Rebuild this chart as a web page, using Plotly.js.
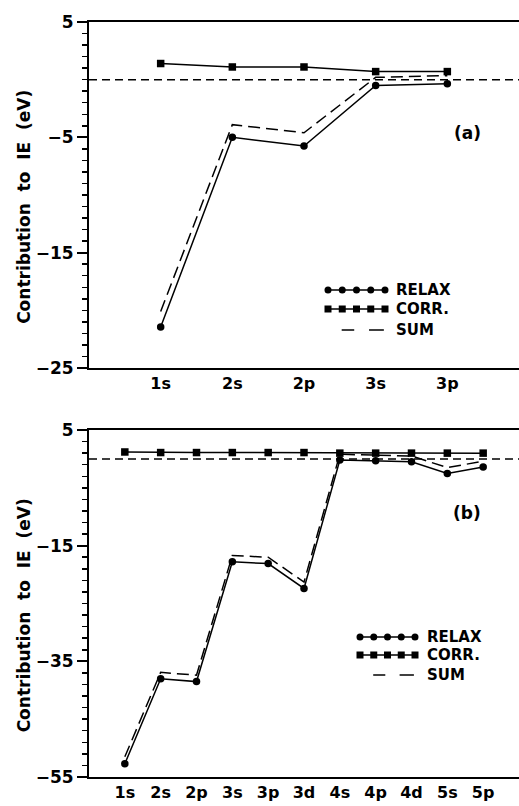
<!DOCTYPE html>
<html>
<head>
<meta charset="utf-8">
<script src="https://cdn.plot.ly/plotly-3.0.1.min.js"></script>
<style>html,body{margin:0;padding:0;background:#fff;}#chart{width:519px;height:806px;}</style>
</head>
<body>
<div id="chart"></div>
<script>
// Panel (a)
const orbitalsA = ["1s", "2s", "2p", "3s", "3p"];
const relaxA = [-21.45, -5.0, -5.75, -0.5, -0.35];
const corrA = [1.4, 1.1, 1.1, 0.7, 0.7];
const sumA = [-20.1, -3.9, -4.6, 0.2, 0.35];

// Panel (b)
const orbitalsB = ["1s", "2s", "2p", "3s", "3p", "3d", "4s", "4p", "4d", "5s", "5p"];
const relaxB = [-52.7, -38.0, -38.5, -17.8, -18.1, -22.4, -0.2, -0.3, -0.5, -2.5, -1.4];
const corrB = [1.2, 1.1, 1.1, 1.1, 1.1, 1.1, 1.0, 1.0, 1.0, 1.0, 1.0];
const sumB = [-51.5, -36.9, -37.4, -16.7, -17.0, -21.3, 0.8, 0.7, 0.5, -1.5, -0.4];

// Axis tick labels
const yTickValsA = [5, -5, -15, -25];
const yTickTextA = ["5", "\u22125", "\u221215", "\u221225"];
const yTickValsB = [5, -15, -35, -55];
const yTickTextB = ["5", "\u221215", "\u221235", "\u221255"];

const legendLabels = ["RELAX", "CORR.", "SUM"];
const panelLabels = ["(a)", "(b)"];
const yTitle = "Contribution&nbsp;&nbsp;to&nbsp;&nbsp;IE&nbsp;&nbsp;(eV)&nbsp;&nbsp;&nbsp;&nbsp;";

const FONT = "DejaVu Sans, Verdana, sans-serif";
const lineStyle = {color: "#000", width: 1.5};

function series(x, y, xa, ya, sym, name) {
  return {x: x, y: y, xaxis: xa, yaxis: ya, type: "scatter", mode: "lines+markers",
    name: name, showlegend: false, line: lineStyle,
    marker: {symbol: sym, size: 7.5, color: "#000"}};
}
function sumSeries(x, y, xa, ya) {
  return {x: x, y: y, xaxis: xa, yaxis: ya, type: "scatter", mode: "lines", name: "SUM",
    showlegend: false, line: {color: "#000", width: 1.5, dash: "12px,6px"}};
}
// invisible carrier so the minor-tick overlay axes are drawn
function carrier(x, y, ya) {
  return {x: x, y: y, xaxis: ya === "y3" ? "x" : "x2", yaxis: ya, type: "scatter", mode: "none",
    showlegend: false, hoverinfo: "skip"};
}

const data = [
  series(orbitalsA, relaxA, "x", "y", "circle", "RELAX"),
  series(orbitalsA, corrA, "x", "y", "square", "CORR."),
  sumSeries(orbitalsA, sumA, "x", "y"),
  series(orbitalsB, relaxB, "x2", "y2", "circle", "RELAX"),
  series(orbitalsB, corrB, "x2", "y2", "square", "CORR."),
  sumSeries(orbitalsB, sumB, "x2", "y2"),
  carrier(orbitalsA, corrA, "y3"),
  carrier(orbitalsB, corrB, "y4")
];

const H = 806, T = 22, B = 29, L = 89, W = 519;
const ph = H - T - B, pw = W - L;
const py = p => (H - B - p) / ph;
const px = p => (p - L) / pw;

const shapes = [];
const annotations = [];

// zero reference lines
shapes.push({type: "line", xref: "x domain", yref: "y", x0: 0, x1: 1, y0: 0, y1: 0,
  line: {color: "#000", width: 1.5, dash: "8px,5px"}});
shapes.push({type: "line", xref: "x2 domain", yref: "y2", x0: 0, x1: 1, y0: 0, y1: 0,
  line: {color: "#000", width: 1.5, dash: "8px,5px"}});

// custom legends
function addLegend(x0p, x1p, rows, textX) {
  const xs0 = px(x0p), xs1 = px(x1p);
  const syms = ["circle", "rect"];
  for (let r = 0; r < 2; r++) {
    const yy = py(rows[r]);
    shapes.push({type: "line", xref: "paper", yref: "paper", x0: xs0, x1: xs1, y0: yy, y1: yy,
      line: {color: "#000", width: 1.5}});
    for (let k = 0; k < 5; k++) {
      const cx = x0p + (x1p - x0p) * k / 4;
      shapes.push({type: syms[r], xref: "paper", yref: "paper", xsizemode: "pixel", ysizemode: "pixel",
        xanchor: px(cx), yanchor: yy, x0: -3.5, x1: 3.5, y0: -3.5, y1: 3.5,
        fillcolor: "#000", line: {color: "#000", width: 0}});
    }
  }
  const ys = py(rows[2]);
  const len = x1p - x0p;
  shapes.push({type: "line", xref: "paper", yref: "paper", x0: px(x0p + len * 0.24), x1: px(x0p + len * 0.46), y0: ys, y1: ys,
    line: {color: "#000", width: 1.5}});
  shapes.push({type: "line", xref: "paper", yref: "paper", x0: px(x0p + len * 0.72), x1: px(x1p - len * 0.02), y0: ys, y1: ys,
    line: {color: "#000", width: 1.5}});
  for (let r = 0; r < 3; r++) {
    annotations.push({xref: "paper", yref: "paper", x: px(textX), y: py(rows[r]), xanchor: "left", yanchor: "middle",
      text: legendLabels[r], showarrow: false, font: {family: FONT, size: 15, color: "#000", weight: "bold"}});
  }
}
addLegend(328, 385, [290, 309, 330], 394);
addLegend(360, 415, [637, 655, 675], 425);

annotations.push({xref: "paper", yref: "paper", x: px(467), y: py(133), xanchor: "center", yanchor: "middle",
  text: panelLabels[0], showarrow: false, font: {family: FONT, size: 17, color: "#000", weight: "bold"}});
annotations.push({xref: "paper", yref: "paper", x: px(467), y: py(513), xanchor: "center", yanchor: "middle",
  text: panelLabels[1], showarrow: false, font: {family: FONT, size: 17, color: "#000", weight: "bold"}});

const tickFont = {family: FONT, size: 17, color: "#000", weight: "bold"};
const xBase = {type: "category", showgrid: false, zeroline: false, showline: true, linecolor: "#000", linewidth: 2,
  mirror: true, ticks: "", tickfont: {family: FONT, size: 16, color: "#000", weight: "bold"}, fixedrange: true};
const yBase = {showgrid: false, zeroline: false, showline: true, linecolor: "#000", linewidth: 2, mirror: false,
  ticks: "outside", ticklen: 10, tickwidth: 2, tickcolor: "#000", tickmode: "array",
  tickfont: tickFont,
  title: {text: yTitle, font: {family: FONT, size: 17, color: "#000", weight: "bold"}, standoff: 1}};
const yMinor = {showgrid: false, zeroline: false, showline: false, ticks: "outside", ticklen: 6, tickwidth: 1.5,
  tickcolor: "#000", showticklabels: false, side: "left", tickmode: "linear", fixedrange: true};

const layout = {
  width: W, height: H,
  margin: {l: L, r: 0, t: T, b: B},
  paper_bgcolor: "#fff", plot_bgcolor: "#fff",
  showlegend: false,
  xaxis: Object.assign({}, xBase, {anchor: "y", domain: [0, 1], range: [-1, 5]}),
  yaxis: Object.assign({}, yBase, {anchor: "x", domain: [py(368), 1], range: [-25, 5],
    tickvals: yTickValsA, ticktext: yTickTextA}),
  yaxis3: Object.assign({}, yMinor, {overlaying: "y", anchor: "x", range: [-25, 5], tick0: 5, dtick: 1}),
  xaxis2: Object.assign({}, xBase, {anchor: "y2", domain: [0, 1], range: [-1, 11]}),
  yaxis2: Object.assign({}, yBase, {anchor: "x2", domain: [0, py(430)], range: [-55, 5],
    tickvals: yTickValsB, ticktext: yTickTextB}),
  yaxis4: Object.assign({}, yMinor, {overlaying: "y2", anchor: "x2", range: [-55, 5], tick0: 5, dtick: 2}),
  shapes: shapes,
  annotations: annotations
};

Plotly.newPlot("chart", data, layout, {displayModeBar: false, staticPlot: true});
</script>
</body>
</html>
